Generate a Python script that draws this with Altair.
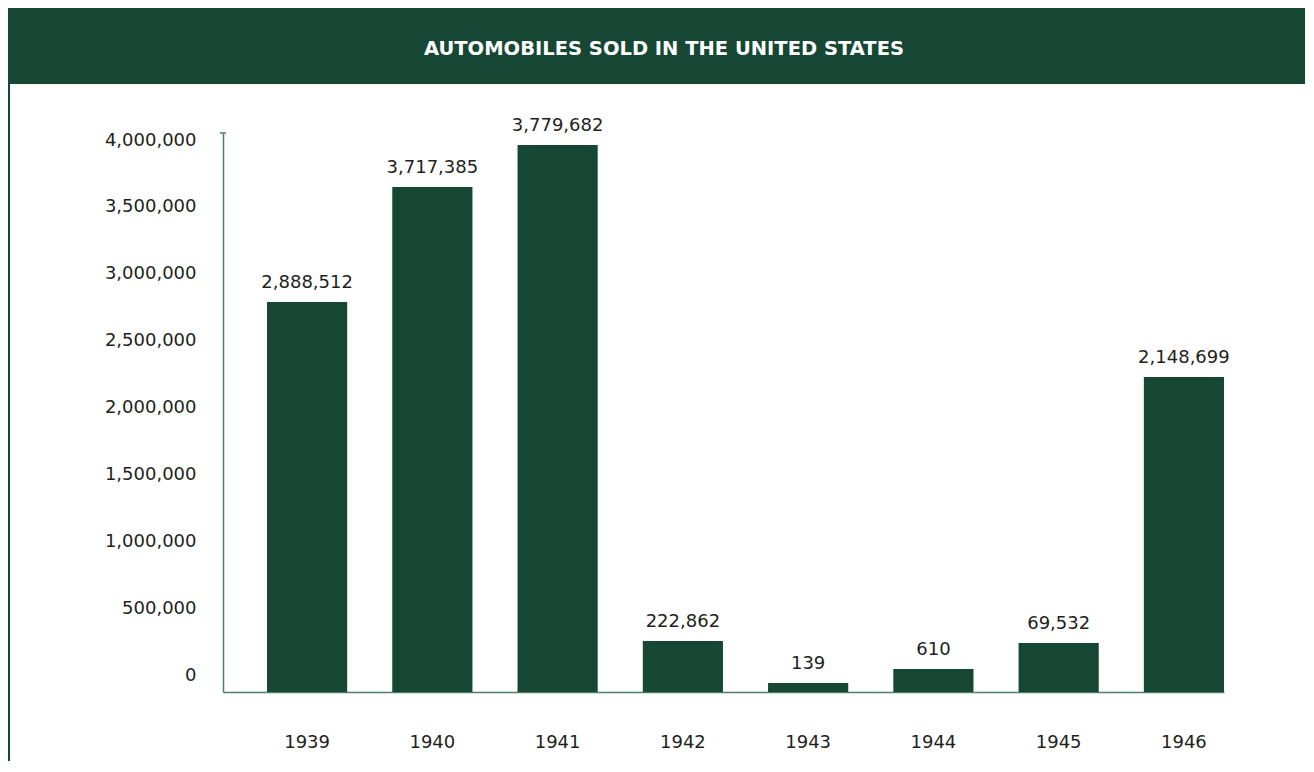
import altair as alt
import pandas as pd

# ---- data ----
years = ["1939", "1940", "1941", "1942", "1943", "1944", "1945", "1946"]
sold = [2888512, 3717385, 3779682, 222862, 139, 610, 69532, 2148699]          # printed labels
bar_heights = [2790000, 3614000, 3914000, 365000, 64000, 165000, 351000, 2254000]  # heights as drawn
y_ticks = [0, 500000, 1000000, 1500000, 2000000, 2500000, 3000000, 3500000, 4000000]
title_text = "AUTOMOBILES SOLD IN THE UNITED STATES"

df = pd.DataFrame({"year": years, "bar": bar_heights, "label": [f"{v:,}" for v in sold]})
one = pd.DataFrame({"title": [title_text]})

W, H = 1001, 559
GREEN = "#164734"
AXIS = "#4e7e6c"
TEXT = "#231f20"
FONT = "DejaVu Sans"

x = alt.X(
    "year:N", sort=years,
    scale=alt.Scale(paddingInner=0.36, paddingOuter=0.1757, align=1, round=False),
    axis=alt.Axis(title=None, labelAngle=0, ticks=False, domainColor=AXIS, domainWidth=1.5,
                  labelFontSize=18, labelColor=TEXT, labelFont=FONT, labelPadding=41,
                  labelBaseline="top"),
)
y = alt.Y(
    "bar:Q",
    scale=alt.Scale(domain=[0, 4000000], nice=False, zero=True),
    axis=alt.Axis(title=None, values=y_ticks, format=",d", grid=False, ticks=False,
                  domainColor=AXIS, domainWidth=1.5, labelPadding=27, labelFontSize=18,
                  labelColor=TEXT, labelFont=FONT, labelAlign="right", labelBaseline="middle",
                  labelOffset={"expr": "-16.5 + 23.5 * datum.value / 4000000"}),
)

bars = alt.Chart(df).mark_bar(color=GREEN).encode(x=x, y=y)
labels = alt.Chart(df).mark_text(
    dy=-14, baseline="alphabetic", align="center", fontSize=18, font=FONT, color=TEXT
).encode(x=x, y=y, text="label:N")

band = alt.Chart(one).mark_rect(color=GREEN).encode(
    x=alt.value(-215), x2=alt.value(W + 81), y=alt.value(-125), y2=alt.value(-49)
)
left_rule = alt.Chart(one).mark_rule(color=GREEN, strokeWidth=2).encode(
    x=alt.value(-214), y=alt.value(-49), y2=alt.value(628)
)
title = alt.Chart(one).mark_text(
    font=FONT, fontWeight="bold", fontSize=19.5, color="white", align="center", baseline="middle"
).encode(x=alt.value(441), y=alt.value(-84), text="title:N")
cap = alt.Chart(one).mark_rule(color=AXIS, strokeWidth=1.5).encode(
    x=alt.value(-3), x2=alt.value(3), y=alt.value(0)
)

chart = alt.layer(band, left_rule, title, bars, labels, cap).properties(
    width=W, height=H, padding=0, background="white"
).configure_view(stroke=None)

chart.save("out.html", embed_options={"renderer": "svg", "actions": False})
